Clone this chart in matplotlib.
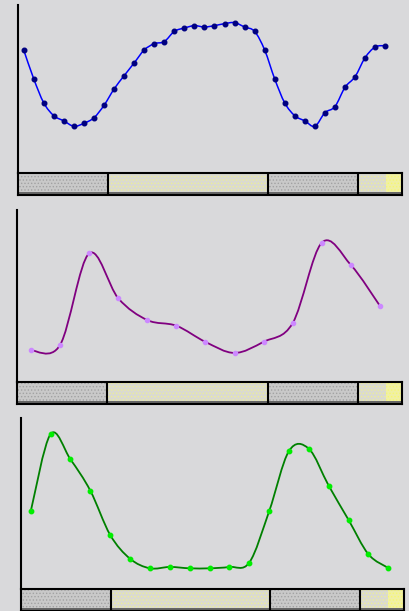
"""
three stacked day/night profiles with smoothed lines and a light bar under each
"""

import numpy as np
import matplotlib.pyplot as plt
from matplotlib.path import Path
from matplotlib.patches import PathPatch

# panel 1: hourly readings
hours_1 = np.arange(0, 37, 1)
vals_1 = [73.2, 56.0, 41.7, 34.1, 31.0, 27.8, 29.6, 32.9, 40.3, 50.0, 57.9, 65.5,
          73.2, 77.0, 78.2, 84.3, 86.3, 87.7, 86.9, 87.7, 88.9, 89.5, 86.9, 84.3,
          73.2, 56.0, 41.7, 34.1, 31.0, 27.8, 35.9, 39.5, 51.0, 57.3, 68.6, 75.0, 75.8]

# panel 2: every 3 hours
hours_2 = np.arange(0, 37, 3)
vals_2 = [18.4, 21.5, 74.8, 48.7, 36.0, 32.7, 23.3, 16.9, 23.4, 34.3, 81.0, 68.0, 44.2]

# panel 3: every 2 hours
hours_3 = np.arange(0, 37, 2)
vals_3 = [45.4, 90.6, 75.8, 57.5, 31.6, 17.7, 12.1, 12.9, 12.1, 12.1, 12.9, 15.4,
          45.4, 80.7, 82.0, 60.4, 40.4, 20.3, 12.3]

# night / day strip under each panel (hours)
band_start = [0, 9, 25, 34, 36.8]
band_end = [9, 25, 34, 36.8, 38.4]
band_kind = ['night', 'day', 'night', 'day', 'sun']

W, H = 410, 611


def smooth_path(x, y):
    # catmull-rom through the points, as cubic bezier pieces
    p = np.column_stack([x, y]).astype(float)
    q = np.vstack([p[0], p, p[-1]])
    verts = [p[0]]
    codes = [Path.MOVETO]
    for i in range(len(p) - 1):
        p0, p1, p2, p3 = q[i], q[i + 1], q[i + 2], q[i + 3]
        verts += [p1 + (p2 - p0) / 6, p2 - (p3 - p1) / 6, p2]
        codes += [Path.CURVE4] * 3
    return Path(verts, codes)


def rect(l, t, r, b):
    return [l / W, 1 - b / H, (r - l) / W, (b - t) / H]


def draw_panel(fig, line_box, bar_box, x, y, xlim, lc, mc, ms, lw):
    ax = fig.add_axes(rect(*line_box))
    ax.set_xlim(*xlim)
    ax.set_ylim(0, 100)
    ax.patch.set_visible(False)
    for s in ['top', 'right', 'bottom']:
        ax.spines[s].set_visible(False)
    ax.spines['left'].set_linewidth(1.5)
    ax.set_xticks([])
    ax.set_yticks([])
    ax.add_patch(PathPatch(smooth_path(x, y), fc='none', ec=lc, lw=lw))
    ax.plot(x, y, ls='none', marker='o', ms=ms, color=mc, mec=mc)

    bx = fig.add_axes(rect(*bar_box))
    bx.set_xlim(band_start[0], band_end[-1])
    bx.set_ylim(0, 1)
    bx.set_xticks([])
    bx.set_yticks([])
    styles = {'night': ('#c9c9c9', '#a2a2a2'),
              'day': ('#dadad0', '#eeee98'),
              'sun': ('#f0f0a4', '#f8f870')}
    for i, (a, b, k) in enumerate(zip(band_start, band_end, band_kind)):
        fc, hc = styles[k]
        bx.axvspan(a, b, fc=fc, ec=hc, hatch='.....', lw=0)
        # separators only between night and day
        if i + 1 < len(band_kind) and (k == 'night') != (band_kind[i + 1] == 'night'):
            bx.axvline(b, color='black', lw=1.5)
    bx.axhspan(0, 0.12, color='#666666', lw=0)
    for s in bx.spines.values():
        s.set_linewidth(1.5)
        s.set_color('black')


if __name__ == '__main__':
    plt.rcParams['hatch.linewidth'] = 0.6
    fig = plt.figure(figsize=(W / 100, H / 100), dpi=100)
    fig.patch.set_facecolor('#d9d9db')

    draw_panel(fig, (18, 5, 402, 173), (18, 173, 402, 195), hours_1, vals_1,
               (-0.57, 37.68), '#0000ff', '#000080', 3.3, 1.1)
    draw_panel(fig, (17, 210, 402, 382), (17, 382, 402, 404), hours_2, vals_2,
               (-1.44, 38.27), '#800080', '#cc88ff', 3, 1.3)
    draw_panel(fig, (21, 418, 404, 589), (21, 589, 404, 611), hours_3, vals_3,
               (-0.98, 37.58), '#008000', '#00ee00', 3.2, 1.3)

    fig.savefig('out.png', dpi=100, facecolor=fig.get_facecolor())
